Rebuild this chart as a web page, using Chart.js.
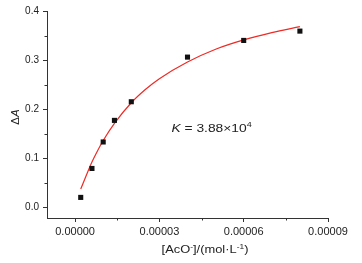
<!DOCTYPE html>
<html lang="en">
  <head>
    <meta charset="UTF-8" />
    <title>AcO- titration fit</title>
    <script src="https://cdn.jsdelivr.net/npm/chart.js"></script>
    <style>
      html, body { margin: 0; padding: 0; background: #fff; }
      #wrap { width: 362px; height: 263px; }
    </style>
  </head>
  <body>
    <div id="wrap"><canvas id="fitChart"></canvas></div>
    <script>
      // measured points
      const concX = [0.000002, 0.000006, 0.00001, 0.000014, 0.00002, 0.00004, 0.00006, 0.00008];
      const deltaA = [0.020, 0.079, 0.133, 0.177, 0.215, 0.306, 0.340, 0.359];

      // red fit curve
      const fitX = [0.000002, 0.000004, 0.000006, 0.000008, 0.00001, 0.000014, 0.00002, 0.000025, 0.00003, 0.00004, 0.00005, 0.00006, 0.00007, 0.00008];
      const fitY = [0.037, 0.065, 0.092, 0.115, 0.136, 0.171, 0.213, 0.240, 0.262, 0.296, 0.322, 0.341, 0.356, 0.368];

      // ticks
      const xTicks = [0, 0.00003, 0.00006, 0.00009];
      const xMinor = [0.000015, 0.000045, 0.000075];
      const yTicks = [0, 0.1, 0.2, 0.3, 0.4];
      const yMinor = [0.05, 0.15, 0.25, 0.35];

      const FONT = "'Liberation Sans', Arial, sans-serif";
      const INK = "#222";

      // draws a run of [text, size, rise, italic] pieces starting at x (or centred)
      function drawRuns(ctx, runs, x, y, stretch, centred) {
        let total = 0;
        runs.forEach((r) => {
          ctx.font = (r[3] ? "italic " : "") + r[1] + "px " + FONT;
          total += ctx.measureText(r[0]).width;
        });
        ctx.save();
        ctx.translate(x, y);
        ctx.scale(stretch, 1);
        let off = centred ? -total / 2 : 0;
        runs.forEach((r) => {
          ctx.font = (r[3] ? "italic " : "") + r[1] + "px " + FONT;
          ctx.fillText(r[0], off, r[2]);
          off += ctx.measureText(r[0]).width;
        });
        ctx.restore();
      }

      // minor ticks, axis titles and the K label
      const extras = {
        id: "extras",
        afterDraw(chart) {
          const ctx = chart.ctx;
          const xs = chart.scales.x;
          const ys = chart.scales.y;
          const area = chart.chartArea;
          ctx.save();
          ctx.strokeStyle = "#333";
          ctx.lineWidth = 1;
          ctx.beginPath();
          xMinor.forEach((v) => {
            const px = Math.round(xs.getPixelForValue(v)) + 0.5;
            ctx.moveTo(px, area.bottom);
            ctx.lineTo(px, area.bottom + 2.5);
          });
          yMinor.forEach((v) => {
            const py = Math.round(ys.getPixelForValue(v)) + 0.5;
            ctx.moveTo(area.left, py);
            ctx.lineTo(area.left - 2.5, py);
          });
          ctx.stroke();

          ctx.fillStyle = INK;
          ctx.textBaseline = "alphabetic";

          // x title
          drawRuns(ctx, [
            ["[AcO", 11.5, 0],
            ["-", 7.5, -4],
            ["]/(mol·L", 11.5, 0],
            ["-1", 7.5, -4],
            [")", 11.5, 0],
          ], 205, 253, 1.12, true);

          // y title
          ctx.save();
          ctx.translate(19, 117);
          ctx.rotate(-Math.PI / 2);
          drawRuns(ctx, [["Δ", 11.5, 0], ["A", 11.5, 0, true]], 0, 0, 1, true);
          ctx.restore();

          // K label
          drawRuns(ctx, [
            ["K", 11.5, 0, true],
            [" = 3.88×10", 11.5, 0],
            ["4", 7.5, -4.5],
          ], xs.getPixelForValue(0.0000343), ys.getPixelForValue(0.162) + 4, 1.2, false);
          ctx.restore();
        },
      };

      new Chart(document.getElementById("fitChart"), {
        type: "scatter",
        data: {
          datasets: [
            {
              label: "data",
              data: concX.map((x, i) => ({ x: x, y: deltaA[i] })),
              pointStyle: "rect",
              pointRadius: 3.6,
              backgroundColor: "#111",
              borderColor: "#111",
              borderWidth: 0,
            },
            {
              label: "fit",
              data: fitX.map((x, i) => ({ x: x, y: fitY[i] })),
              showLine: true,
              pointRadius: 0,
              borderColor: "#ee2a24",
              borderWidth: 1.2,
              cubicInterpolationMode: "monotone",
            },
          ],
        },
        options: {
          responsive: true,
          maintainAspectRatio: false,
          animation: false,
          layout: { padding: { left: 0, top: 11, right: 34, bottom: 0 } },
          plugins: {
            legend: { display: false },
            tooltip: { enabled: false },
          },
          scales: {
            x: {
              type: "linear",
              min: -0.00001,
              max: 0.00009,
              afterBuildTicks: (s) => { s.ticks = xTicks.map((v) => ({ value: v })); },
              afterFit: (s) => { s.height = 45; },
              border: { display: true, color: "#333", width: 1 },
              grid: { drawOnChartArea: false, drawTicks: true, tickLength: 4, color: "#333" },
              ticks: {
                padding: 3,
                maxRotation: 0,
                autoSkip: false,
                color: INK,
                font: { family: FONT, size: 11 },
                callback: (v) => Number(v).toFixed(5),
              },
            },
            y: {
              type: "linear",
              min: -0.022,
              max: 0.4,
              afterBuildTicks: (s) => { s.ticks = yTicks.map((v) => ({ value: v })); },
              afterFit: (s) => { s.width = 47; },
              border: { display: true, color: "#333", width: 1 },
              grid: { drawOnChartArea: false, drawTicks: true, tickLength: 4, color: "#333" },
              ticks: {
                padding: 4,
                autoSkip: false,
                color: INK,
                font: { family: FONT, size: 10 },
                callback: (v) => Number(v).toFixed(1),
              },
            },
          },
        },
        plugins: [extras],
      });
    </script>
  </body>
</html>
